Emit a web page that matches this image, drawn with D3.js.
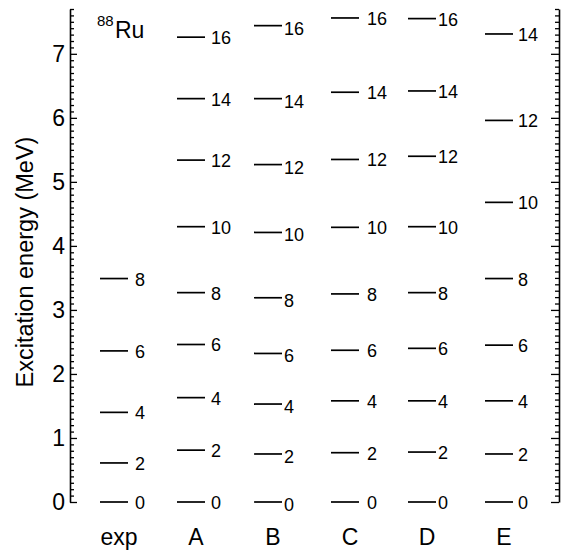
<!DOCTYPE html>
<html>
<head>
<meta charset="utf-8">
<script src="https://cdn.jsdelivr.net/npm/d3@7"></script>
<style>
  body { margin: 0; background: #fff; }
  text { font-family: "Liberation Sans", Arial, Helvetica, sans-serif; fill: #000; }
</style>
</head>
<body>
<svg id="chart"></svg>
<script>
// level schemes, energies in MeV
const columns = ["exp", "A", "B", "C", "D", "E"];
const spins = [0, 2, 4, 6, 8, 10, 12, 14, 16];
const expLevels = [0, 0.61, 1.40, 2.36, 3.49];
const aLevels = [0, 0.81, 1.63, 2.46, 3.27, 4.30, 5.34, 6.30, 7.26];
const bLevels = [0, 0.75, 1.53, 2.32, 3.19, 4.21, 5.27, 6.30, 7.44];
const cLevels = [0, 0.77, 1.58, 2.37, 3.25, 4.29, 5.35, 6.40, 7.56];
const dLevels = [0, 0.78, 1.58, 2.40, 3.27, 4.30, 5.40, 6.42, 7.55];
const eLevels = [0, 0.75, 1.58, 2.45, 3.49, 4.68, 5.96, 7.31];
const yTicks = [0, 1, 2, 3, 4, 5, 6, 7];

const levelSets = [expLevels, aLevels, bLevels, cLevels, dLevels, eLevels];
// small per-column label tweaks
const labelGap = [7, 6, 2, 8, 2, 5];
const labelDrop = [1, 1, 3, 1, 1, 1];

const width = 567, height = 553;
const axisL = 70, axisR = 559, plotTop = 9, plotBottom = 502;

const svg = d3.select("#chart")
    .attr("width", width)
    .attr("height", height);

const y = d3.scaleLinear()
    .domain([0, 7.7])
    .range([plotBottom, plotTop]);

const x = d3.scalePoint()
    .domain(columns)
    .range([114, 499]);

const minors = d3.range(0, 78).map(i => i / 10).filter(v => Math.abs(v - Math.round(v)) > 1e-6 && v <= 7.7);

// left axis
svg.append("g")
    .attr("transform", `translate(${axisL},0)`)
    .call(d3.axisLeft(y).tickValues(minors).tickSizeInner(-4).tickSizeOuter(0).tickFormat(""))
    .call(g => g.select(".domain").remove());

svg.append("g")
    .attr("transform", `translate(${axisL},0)`)
    .call(d3.axisLeft(y).tickValues(yTicks).tickSizeInner(-7).tickSizeOuter(0).tickPadding(5).tickFormat(d3.format("d")))
    .call(g => g.selectAll("text").style("font-size", "23px"));

// right axis, no labels
svg.append("g")
    .attr("transform", `translate(${axisR},0)`)
    .call(d3.axisRight(y).tickValues(minors).tickSizeInner(-4).tickSizeOuter(0).tickFormat(""))
    .call(g => g.select(".domain").remove());

svg.append("g")
    .attr("transform", `translate(${axisR},0)`)
    .call(d3.axisRight(y).tickValues(yTicks).tickSizeInner(-8).tickSizeOuter(0).tickFormat(""));

svg.selectAll(".domain").attr("stroke-width", 1.6);
svg.selectAll(".tick line").attr("stroke-width", 1.3);

// levels
const half = 14;
columns.forEach((col, ci) => {
    const cx = x(col);
    const levels = levelSets[ci].map((e, i) => ({ e: e, spin: spins[i] }));
    const g = svg.append("g");

    g.selectAll("line")
        .data(levels)
        .join("line")
        .attr("x1", cx - half)
        .attr("x2", cx + half)
        .attr("y1", d => y(d.e))
        .attr("y2", d => y(d.e))
        .attr("stroke", "#000")
        .attr("stroke-width", 1.7);

    g.selectAll("text")
        .data(levels)
        .join("text")
        .attr("x", cx + half + labelGap[ci])
        .attr("y", d => y(d.e) + labelDrop[ci])
        .attr("dominant-baseline", "central")
        .style("font-size", "18px")
        .text(d => d.spin);

    svg.append("text")
        .attr("x", cx + 5)
        .attr("y", 545)
        .attr("text-anchor", "middle")
        .style("font-size", "23px")
        .text(col);
});

// nucleus label
svg.append("text")
    .attr("x", 97)
    .attr("y", 26)
    .style("font-size", "15px")
    .text("88");
svg.append("text")
    .attr("x", 115)
    .attr("y", 38)
    .style("font-size", "23px")
    .text("Ru");

// y title
svg.append("text")
    .attr("transform", "translate(33,262) rotate(-90)")
    .attr("text-anchor", "middle")
    .style("font-size", "23.5px")
    .text("Excitation energy (MeV)");
</script>
</body>
</html>
